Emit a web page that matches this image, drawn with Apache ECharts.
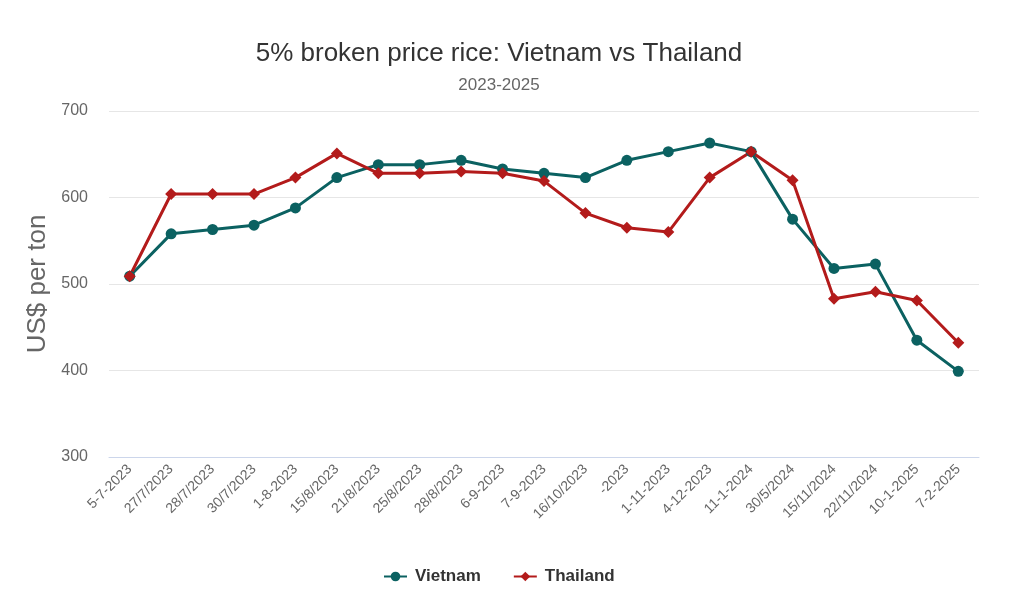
<!DOCTYPE html>
<html><head><meta charset="utf-8">
<script src="https://cdn.jsdelivr.net/npm/echarts@6/dist/echarts.min.js"></script>
<style>html,body{margin:0;padding:0;background:#fff}#c{width:1024px;height:609px}</style>
</head><body><div id="c"></div>
<script>
const categories = ['5-7-2023','27/7/2023','28/7/2023','30/7/2023','1-8-2023','15/8/2023','21/8/2023','25/8/2023','28/8/2023','6-9-2023','7-9-2023','16/10/2023','-2023','1-11-2023','4-12-2023','11-1-2024','30/5/2024','15/11/2024','22/11/2024','10-1-2025','7-2-2025'];
const vietnam = [509,558,563,568,588,623,638,638,643,633,628,623,643,653,663,653,575,518,523,435,399];
const thailand = [509,604,604,604,623,651,628,628,630,628,619,582,565,560,623,653,620,483,491,481,432];
const yTicks = [300,400,500,600,700];

const chart = echarts.init(document.getElementById('c'));
const font = 'Liberation Sans, Arial, sans-serif';
chart.setOption({
  animation:false,
  textStyle:{fontFamily:font},
  title:{
    text:'5% broken price rice: Vietnam vs Thailand',
    subtext:'2023-2025',
    left:494, textAlign:'center', top:36, itemGap:10,
    textStyle:{fontSize:26,fontWeight:'normal',color:'#333',fontFamily:font},
    subtextStyle:{fontSize:17,color:'#666',fontFamily:font}
  },
  legend:{
    top:563, left:378, itemGap:32, itemWidth:23, itemHeight:12,
    textStyle:{fontSize:17,fontWeight:'bold',color:'#333',fontFamily:font,padding:[0,0,0,3]},
    data:['Vietnam','Thailand']
  },
  grid:{left:109,right:45,top:111,bottom:152,containLabel:false},
  xAxis:{
    type:'category', data:categories, boundaryGap:true,
    axisLine:{lineStyle:{color:'#ccd6eb'}},
    axisTick:{show:false},
    axisLabel:{rotate:45,fontSize:14,color:'#666',interval:0,margin:10,fontFamily:font}
  },
  yAxis:{
    type:'value', min:yTicks[0], max:yTicks[yTicks.length-1], interval:100,
    name:'US$ per ton', nameLocation:'middle', nameGap:58, nameRotate:90,
    nameTextStyle:{fontSize:26,color:'#666',fontFamily:font},
    axisLine:{show:false}, axisTick:{show:false},
    axisLabel:{fontSize:16,color:'#666',margin:21,fontFamily:font},
    splitLine:{lineStyle:{color:'#e6e6e6'}}
  },
  series:[
    {name:'Vietnam',type:'line',data:vietnam,symbol:'circle',symbolSize:11,
     lineStyle:{width:3,color:'#0b6161'},itemStyle:{color:'#0b6161'}},
    {name:'Thailand',type:'line',data:thailand,symbol:'diamond',symbolSize:12,
     lineStyle:{width:3,color:'#b31b1b'},itemStyle:{color:'#b31b1b'}}
  ]
});
</script></body></html>
